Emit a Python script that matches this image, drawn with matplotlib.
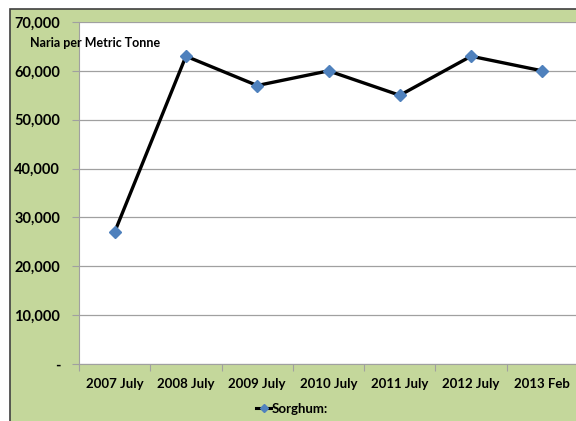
import matplotlib.pyplot as plt
from matplotlib.patches import Rectangle
from matplotlib.lines import Line2D

periods = ['2007 July', '2008 July', '2009 July', '2010 July',
           '2011 July', '2012 July', '2013 Feb']
sorghum = [27000, 63000, 57000, 60000, 55000, 63000, 60000]
yticks = [0, 10000, 20000, 30000, 40000, 50000, 60000, 70000]
ylabels = ['-'] + ['{:,}'.format(v) for v in yticks[1:]]

plt.rcParams['font.family'] = ['Lato', 'DejaVu Sans']
plt.rcParams['font.weight'] = 'bold'

W, H = 576, 421
fig = plt.figure(figsize=(W / 100, H / 100), dpi=100)
fig.patch.set_facecolor('white')

# green chart area with dark border, kept behind the axes
fig.patches.append(Rectangle((10 / W, -0.01), 1.0, 1 - 9 / H + 0.01,
                             transform=fig.transFigure, facecolor='#C4D79B',
                             edgecolor='#404040', linewidth=1.2, zorder=-5))

ax = fig.add_axes([79 / W, 1 - 364 / H, (578 - 79) / W, (364 - 22) / H])
ax.set_zorder(1)
ax.set_facecolor('white')
x = list(range(len(periods)))
ax.plot(x, sorghum, color='black', linewidth=2.4, marker='D',
        markersize=6, markerfacecolor='#4F81BD', markeredgecolor='#4F81BD',
        zorder=3)

ax.set_xlim(-0.5, len(periods) - 0.5)
ax.set_ylim(0, 70000)
ax.set_yticks(yticks)
ax.set_yticklabels(ylabels, fontsize=10.5, fontweight='bold')
ax.yaxis.grid(True, color='#A0A0A0', linewidth=0.9)
ax.set_axisbelow(True)

ax.set_xticks([i - 0.5 for i in range(len(periods) + 1)], minor=False)
ax.set_xticklabels([])
ax.set_xticks(x, minor=True)
ax.set_xticklabels(periods, minor=True, fontsize=9.5, fontweight='bold')
ax.tick_params(axis='x', which='major', length=5, color='#A0A0A0')
ax.tick_params(axis='x', which='minor', length=0, pad=10)
ax.tick_params(axis='y', length=5, color='#A0A0A0', pad=8.5)

for side in ['top', 'right']:
    ax.spines[side].set_visible(False)
ax.spines['left'].set_color('#A0A0A0')
ax.spines['bottom'].set_color('#A0A0A0')

fig.text(30 / W, 1 - 43 / H, 'Naria per Metric Tonne', fontsize=9,
         fontweight='bold', va='center', ha='left', zorder=10)

handle = Line2D([], [], color='black', linewidth=2.2, marker='D',
                markersize=4.5, markerfacecolor='#4F81BD',
                markeredgecolor='#4F81BD')
fig.legend([handle], ['Sorghum:'], loc='center', bbox_to_anchor=(292 / W, 1 - 409 / H),
           frameon=False, handlelength=1.2, handletextpad=0.05,
           prop={'weight': 'bold', 'size': 9.5})

fig.savefig('out.png', dpi=100)
